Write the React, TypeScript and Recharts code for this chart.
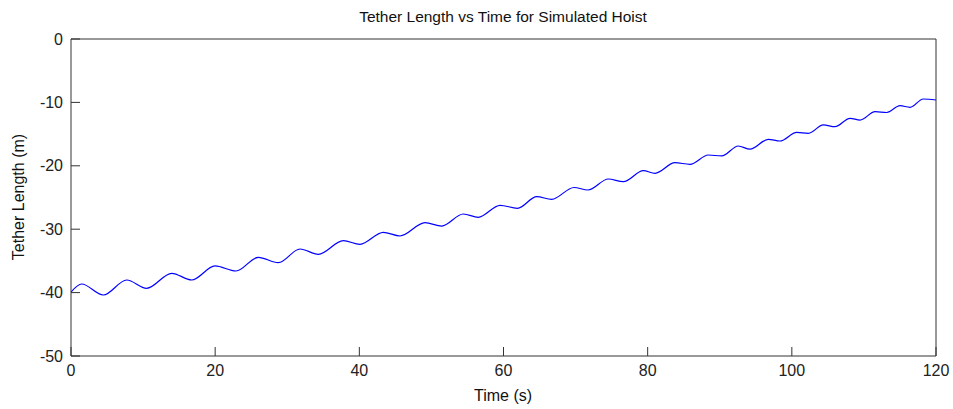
import React from 'react';
import { LineChart, Line, XAxis, YAxis } from 'recharts';

// Time (s) at the peaks/troughs of the tether-length trace
const timeS = [
  0, 1.48, 4.48, 7.73, 10.5, 13.97, 16.74, 19.98, 22.89, 25.98, 28.76, 31.77, 34.31,
  37.78, 40.09, 43.32, 45.64, 49.11, 51.43, 54.42, 56.5, 59.52, 61.94, 64.61, 66.69,
  69.78, 71.72, 74.54, 76.62, 79.4, 81.02, 83.79, 85.87, 88.41, 90.27, 92.57, 94.2,
  96.73, 98.36, 100.68, 102.29, 104.37, 105.99, 108.07, 109.46, 111.55, 113.17,
  115.01, 116.4, 118.24, 120,
];
// Tether length (m)
const lengthM = [
  -39.91, -38.64, -40.38, -38.01, -39.32, -36.96, -38.01, -35.8, -36.59, -34.43, -35.28,
  -33.12, -33.96, -31.81, -32.38, -30.49, -31.07, -28.97, -29.5, -27.6, -28.12, -26.23,
  -26.7, -24.87, -25.28, -23.42, -23.82, -22.08, -22.51, -20.77, -21.18, -19.51, -19.76,
  -18.3, -18.45, -16.88, -17.38, -15.82, -16.09, -14.72, -14.87, -13.56, -13.83, -12.51,
  -12.78, -11.47, -11.59, -10.52, -10.77, -9.46, -9.62,
];
const xTicks = [0, 20, 40, 60, 80, 100, 120];
const yTicks = [-50, -40, -30, -20, -10, 0];

const data = timeS.map((t, i) => ({ t, v: lengthM[i] }));

const FONT = '"Liberation Sans", Arial, sans-serif';
const AX = '#333333';
const tickStyle = { fill: '#222', fontSize: 16, fontFamily: FONT };

export default function App() {
  return (
    <div style={{ position: 'absolute', left: 0, top: 0, width: 953, height: 409, background: '#fff', fontFamily: FONT }}>
      <LineChart
        width={953}
        height={409}
        data={data}
        margin={{ top: 0, right: 0, bottom: 0, left: 0 }}
      >
        <XAxis
          xAxisId="b"
          dataKey="t"
          type="number"
          domain={[0, 120]}
          ticks={xTicks}
          height={53}
          tickSize={-9}
          tickMargin={18}
          stroke={AX}
          tick={tickStyle}
          interval={0}
          allowDataOverflow
        />
        <XAxis
          xAxisId="top"
          dataKey="t"
          type="number"
          orientation="top"
          domain={[0, 120]}
          ticks={xTicks}
          height={39}
          tickSize={-9}
          stroke={AX}
          tick={false}
          interval={0}
        />
        <YAxis
          yAxisId="l"
          type="number"
          domain={[-50, 0]}
          ticks={yTicks}
          width={71}
          tickSize={-9}
          tickMargin={17}
          stroke={AX}
          tick={tickStyle}
          interval={0}
        />
        <YAxis
          yAxisId="r"
          orientation="right"
          type="number"
          domain={[-50, 0]}
          ticks={yTicks}
          width={17}
          tickSize={-9}
          stroke={AX}
          tick={false}
          interval={0}
        />
        <Line
          xAxisId="b"
          yAxisId="l"
          dataKey="v"
          type="monotone"
          stroke="#0000ff"
          strokeWidth={1.2}
          dot={false}
          isAnimationActive={false}
        />
      </LineChart>
      <div style={{ position: 'absolute', left: 503, top: 17, transform: 'translate(-50%, -50%)', fontSize: 15.5, color: '#111', whiteSpace: 'nowrap' }}>
        Tether Length vs Time for Simulated Hoist
      </div>
      <div style={{ position: 'absolute', left: 503, top: 396, transform: 'translate(-50%, -50%)', fontSize: 16, color: '#111', whiteSpace: 'nowrap' }}>
        Time (s)
      </div>
      <div style={{ position: 'absolute', left: 19, top: 197, transform: 'translate(-50%, -50%) rotate(-90deg)', fontSize: 16, color: '#111', whiteSpace: 'nowrap' }}>
        Tether Length (m)
      </div>
    </div>
  );
}
